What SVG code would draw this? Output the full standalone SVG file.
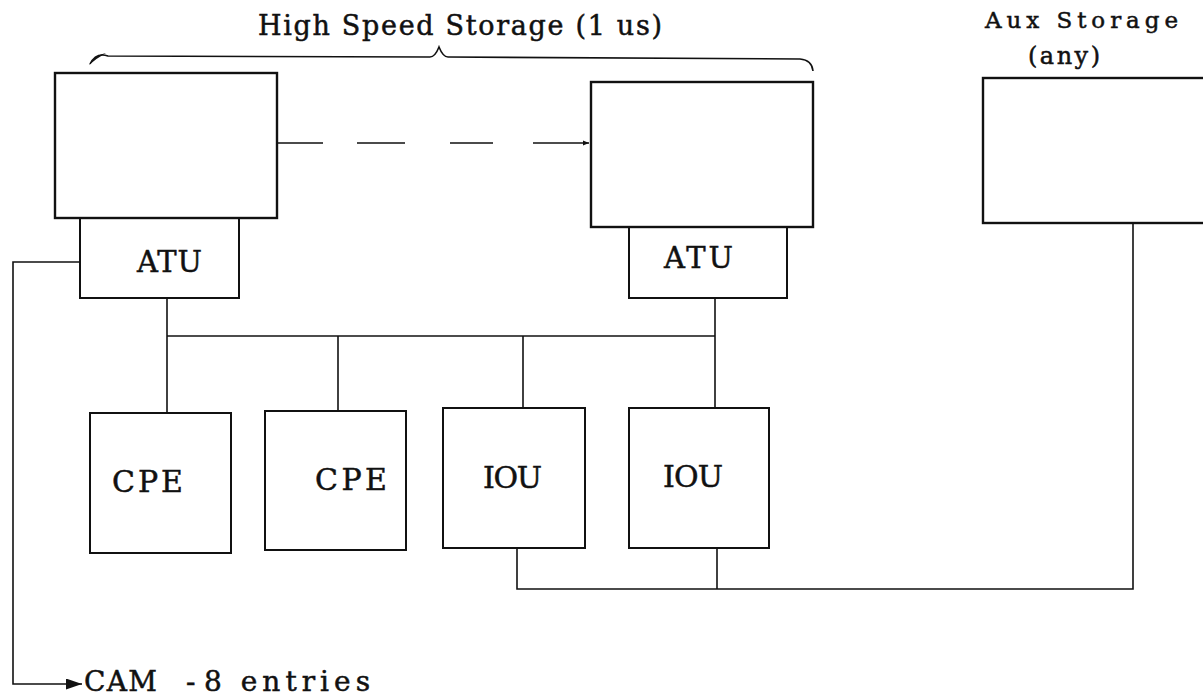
<svg xmlns="http://www.w3.org/2000/svg" width="1203" height="698" viewBox="0 0 1203 698">
<defs>
<style>
.box{fill:none;stroke:#111;stroke-width:2}
.thick{fill:none;stroke:#111;stroke-width:2.4}
.ln{fill:none;stroke:#111;stroke-width:1.6}
.lbl{font-family:"DejaVu Serif","Liberation Serif",serif;fill:#111;stroke:#111;stroke-width:0.5}
</style>
<marker id="tip" viewBox="0 0 10 10" refX="10" refY="5" markerWidth="6" markerHeight="6" markerUnits="userSpaceOnUse" orient="auto">
<path d="M0,1 L10,5 L0,9 z" fill="#111"/>
</marker>
<marker id="bigtip" viewBox="0 0 16 11" refX="16" refY="5.5" markerWidth="16" markerHeight="11" markerUnits="userSpaceOnUse" orient="auto">
<path d="M0,0 L16,5.5 L0,11 z" fill="#111"/>
</marker>
</defs>
<rect width="1203" height="698" fill="#fff"/>

<g id="title">
<text class="lbl" x="258" y="35" font-size="27" textLength="404" lengthAdjust="spacing">High Speed Storage (1 us)</text>
<path class="ln" d="M90,64 Q96,52 108,56 L430,57 Q435,57 439,47 Q443,57 448,57 L800,59 Q812,60 813,71"/>
<path d="M89,65 Q95,55 106,53 Q97,58 89,65 z" fill="#111"/>
</g>

<g id="hss1">
<rect class="thick" x="55" y="73" width="222" height="145"/>
</g>
<g id="atu1">
<rect class="box" x="80" y="218" width="159" height="80"/>
<text class="lbl" x="137" y="272" font-size="29" textLength="65" lengthAdjust="spacing">ATU</text>
</g>

<g id="hss2">
<rect class="thick" x="591" y="82" width="222" height="145"/>
</g>
<g id="atu2">
<rect class="box" x="629" y="227" width="158" height="71"/>
<text class="lbl" x="664" y="268" font-size="29" textLength="69" lengthAdjust="spacing">ATU</text>
</g>

<g id="aux">
<text class="lbl" x="985" y="28" font-size="23" textLength="193" lengthAdjust="spacing">Aux Storage</text>
<text class="lbl" x="1028" y="64" font-size="24" textLength="72" lengthAdjust="spacing">(any)</text>
<rect class="thick" x="983" y="78" width="222" height="145"/>
</g>

<g id="cpe1">
<rect class="box" x="90" y="413" width="141" height="140"/>
<text class="lbl" x="112" y="492" font-size="30" textLength="71" lengthAdjust="spacing">CPE</text>
</g>
<g id="cpe2">
<rect class="box" x="265" y="411" width="141" height="139"/>
<text class="lbl" x="315" y="490" font-size="30" textLength="72" lengthAdjust="spacing">CPE</text>
</g>
<g id="iou1">
<rect class="box" x="443" y="408" width="142" height="140"/>
<text class="lbl" x="483" y="488" font-size="30" textLength="59" lengthAdjust="spacing">IOU</text>
</g>
<g id="iou2">
<rect class="box" x="629" y="408" width="140" height="140"/>
<text class="lbl" x="663" y="487" font-size="30" textLength="60" lengthAdjust="spacing">IOU</text>
</g>

<g id="cam">
<text class="lbl" y="691" font-size="28"><tspan x="84" textLength="73" lengthAdjust="spacing">CAM</tspan> <tspan x="186">-</tspan> <tspan x="204" textLength="166" lengthAdjust="spacing">8 entries</tspan></text>
</g>

<g id="connectors">
<path class="ln" d="M277,143 H323 M357,143 H405 M450,143 H493"/>
<path class="ln" d="M533,143 H589" marker-end="url(#tip)"/>
<path class="ln" d="M80,262 H13 V684 H82" marker-end="url(#bigtip)"/>
<path class="ln" d="M167,298 V413"/>
<path class="ln" d="M167,336 H715"/>
<path class="ln" d="M338,336 V411"/>
<path class="ln" d="M523,336 V408"/>
<path class="ln" d="M715,298 V408"/>
<path class="ln" d="M517,548 V589 H1133 V223"/>
<path class="ln" d="M717,548 V589"/>
</g>
</svg>
